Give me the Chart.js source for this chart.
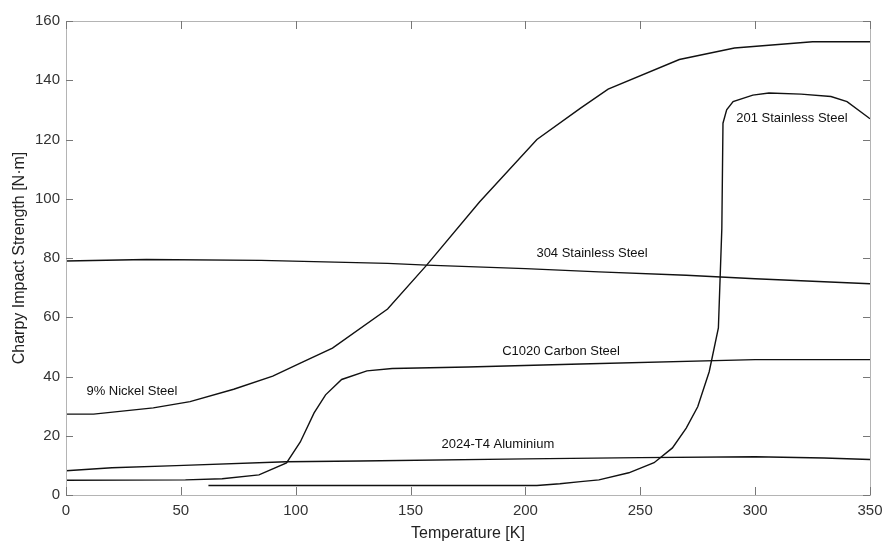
<!DOCTYPE html>
<html>
<head>
<meta charset="utf-8">
<script src="https://cdn.jsdelivr.net/npm/chart.js@4"></script>
<style>
  html, body { margin: 0; padding: 0; background: #fff; }
  #wrap { width: 883px; height: 543px; }
</style>
</head>
<body>
<div id="wrap"><canvas id="charpy"></canvas></div>
<script>
// temperature [K] / impact strength [N·m]
const nickelT = [0, 12, 38, 54, 73, 90, 102, 116, 140, 157, 180, 205, 224, 236, 267, 291, 325, 350]
const nickelV = [27.3, 27.3, 29.4, 31.5, 35.7, 40.1, 44.5, 49.6, 62.8, 77.6, 98.9, 120, 130.6, 137, 147, 150.9, 153, 153]

const ss304T = [0, 35, 85, 140, 157, 200, 232, 270, 300, 330, 350]
const ss304V = [79, 79.5, 79.2, 78.2, 77.6, 76.4, 75.3, 74.2, 73, 72, 71.3]

const c1020T = [0, 52, 68, 84, 96, 102, 108, 113, 120, 131, 142, 175, 224, 300, 350]
const c1020V = [5, 5.1, 5.5, 6.8, 10.8, 17.9, 27.7, 33.8, 39, 41.9, 42.7, 43.2, 44.2, 45.7, 45.7]

const al2024T = [0, 20, 48, 96, 128, 200, 250, 300, 330, 350]
const al2024V = [8.2, 9.2, 9.9, 11.2, 11.5, 12.2, 12.6, 12.9, 12.5, 12]

const ss201T = [62, 205, 215, 224, 232, 245, 256, 264, 270, 275, 280, 284, 285.5, 286, 287.6, 290.4, 299, 306, 320, 333, 340, 349, 350]
const ss201V = [3.2, 3.2, 3.8, 4.5, 5.1, 7.5, 10.9, 15.9, 22.6, 29.8, 41.6, 56.4, 90, 125.5, 130, 132.8, 135, 135.7, 135.3, 134.5, 132.8, 127.6, 127]

// curve labels
const labelText = ["9% Nickel Steel", "304 Stainless Steel", "C1020 Carbon Steel", "2024-T4 Aluminium", "201 Stainless Steel"]
const labelT = [28.7, 229, 215.5, 188, 316]
const labelV = [35, 81.4, 48.6, 17.2, 127]

const xTicks = [0, 50, 100, 150, 200, 250, 300, 350]
const yTicks = [0, 20, 40, 60, 80, 100, 120, 140, 160]

const toPoints = (ts, vs) => ts.map((t, i) => ({ x: t, y: vs[i] }))

const lineStyle = {
  borderColor: "#111",
  borderWidth: 1.4,
  pointRadius: 0,
  fill: false,
  tension: 0,
}

// box + inward ticks on all four sides, like the original
const boxPlugin = {
  id: "boxTicks",
  afterDraw(chart) {
    const { ctx, chartArea: a, scales } = chart
    ctx.save()
    ctx.strokeStyle = "#b4b4b4"
    ctx.lineWidth = 1
    ctx.strokeRect(a.left + 0.5, a.top + 0.5, a.right - a.left, a.bottom - a.top)
    ctx.strokeStyle = "#777"
    ctx.beginPath()
    xTicks.forEach((v) => {
      const px = Math.round(scales.x.getPixelForValue(v)) + 0.5
      ctx.moveTo(px, a.bottom)
      ctx.lineTo(px, a.bottom - 8)
      ctx.moveTo(px, a.top)
      ctx.lineTo(px, a.top + 8)
    })
    yTicks.forEach((v) => {
      const py = Math.round(scales.y.getPixelForValue(v)) + 0.5
      ctx.moveTo(a.left, py)
      ctx.lineTo(a.left + 7, py)
      ctx.moveTo(a.right, py)
      ctx.lineTo(a.right - 7, py)
    })
    ctx.stroke()

    // curve names
    ctx.fillStyle = "#111"
    ctx.font = "13px 'Liberation Sans', Arial, sans-serif"
    ctx.textAlign = "center"
    ctx.textBaseline = "middle"
    labelText.forEach((txt, i) => {
      ctx.fillText(txt, scales.x.getPixelForValue(labelT[i]), scales.y.getPixelForValue(labelV[i]))
    })
    ctx.restore()
  },
}

const axisFont = { family: "'Liberation Sans', Arial, sans-serif", size: 15 }
const titleFont = { family: "'Liberation Sans', Arial, sans-serif", size: 16 }

new Chart(document.getElementById("charpy"), {
  type: "line",
  data: {
    datasets: [
      { label: "9% Nickel Steel", data: toPoints(nickelT, nickelV), ...lineStyle },
      { label: "304 Stainless Steel", data: toPoints(ss304T, ss304V), ...lineStyle },
      { label: "C1020 Carbon Steel", data: toPoints(c1020T, c1020V), ...lineStyle },
      { label: "2024-T4 Aluminium", data: toPoints(al2024T, al2024V), ...lineStyle },
      { label: "201 Stainless Steel", data: toPoints(ss201T, ss201V), ...lineStyle },
    ],
  },
  options: {
    responsive: true,
    maintainAspectRatio: false,
    animation: false,
    layout: { padding: { top: 21, right: 13, bottom: 0, left: 0 } },
    plugins: {
      legend: { display: false },
      tooltip: { enabled: false },
    },
    scales: {
      x: {
        type: "linear",
        min: 0,
        max: 350,
        afterFit: (scale) => {
          scale.height = 48
          scale.paddingLeft = 0
          scale.paddingRight = 0
        },
        afterBuildTicks: (scale) => { scale.ticks = xTicks.map((v) => ({ value: v })) },
        grid: { display: true, drawOnChartArea: false, drawTicks: false },
        border: { display: false },
        ticks: { color: "#333", font: axisFont, padding: 7, maxRotation: 0 },
        title: { display: true, text: "Temperature [K]", color: "#222", font: titleFont, padding: 0 },
      },
      y: {
        type: "linear",
        min: 0,
        max: 160,
        afterFit: (scale) => {
          scale.width = 66
          scale.paddingTop = 0
          scale.paddingBottom = 0
        },
        afterBuildTicks: (scale) => { scale.ticks = yTicks.map((v) => ({ value: v })) },
        grid: { display: true, drawOnChartArea: false, drawTicks: false },
        border: { display: false },
        ticks: { color: "#333", font: axisFont, padding: 6 },
        title: { display: true, text: "Charpy Impact Strength [N·m]", color: "#222", font: titleFont, padding: { top: 10, bottom: 0 } },
      },
    },
  },
  plugins: [boxPlugin],
})
</script>
</body>
</html>
